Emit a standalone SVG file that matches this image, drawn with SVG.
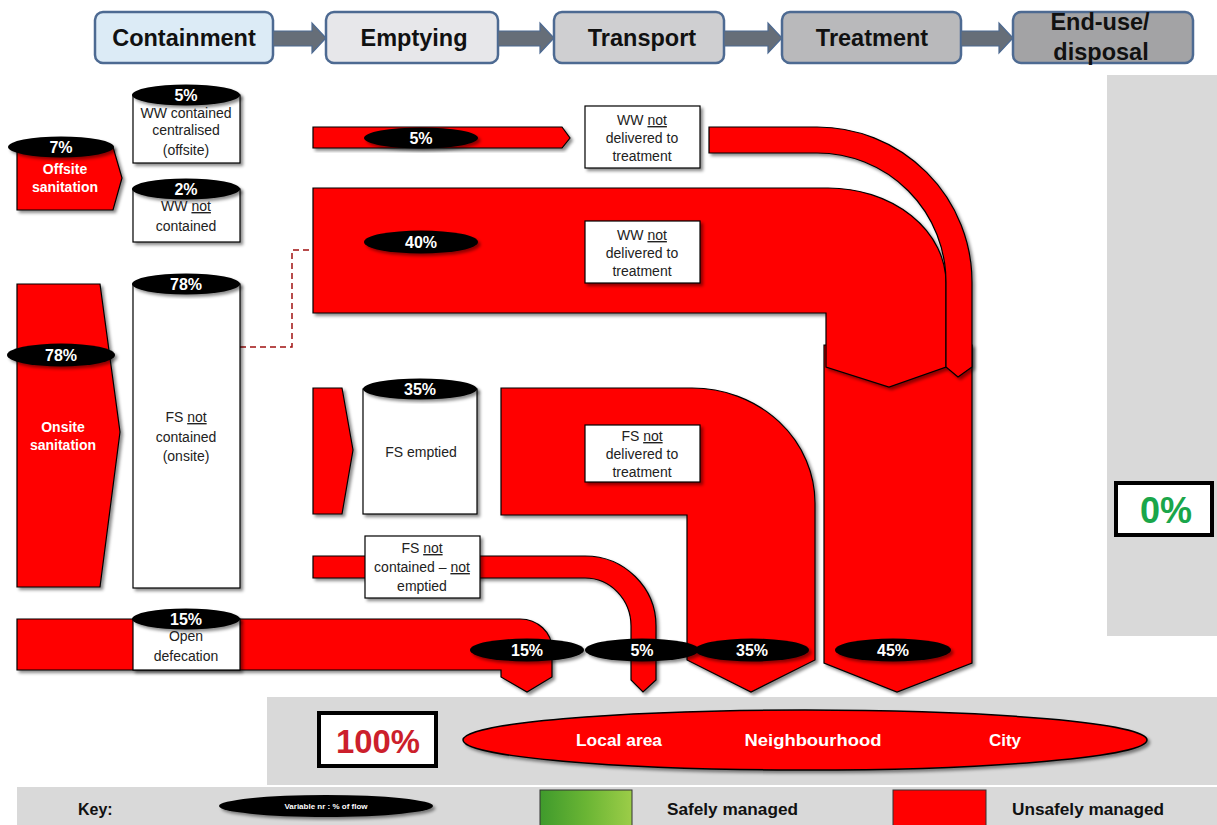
<svg xmlns="http://www.w3.org/2000/svg" width="1217" height="825" viewBox="0 0 1217 825">
<defs>
<filter id="sh" x="-10%" y="-10%" width="130%" height="130%"><feDropShadow dx="2.5" dy="2.5" stdDeviation="1.8" flood-color="#000" flood-opacity="0.45"/></filter>
<linearGradient id="grn" x1="0" y1="0" x2="1" y2="0"><stop offset="0" stop-color="#3f9a2c"/><stop offset="0.5" stop-color="#6ab534"/><stop offset="1" stop-color="#9ccd48"/></linearGradient>
<style>
.hdr{stroke:#4d6a92;stroke-width:2.5}
.ht{font-family:"Liberation Sans",Arial,sans-serif;font-weight:bold;font-size:23.5px;fill:#111;text-anchor:middle}
.harr{fill:#666e78;stroke:#4d6a92;stroke-width:1.2}
.red{fill:#ff0000;stroke:#000;stroke-width:1.2;filter:url(#sh)}
.box{fill:#fff;stroke:#000;stroke-width:1.2;filter:url(#sh)}
.cap{fill:#000;filter:url(#sh)}
.pt{font-family:"Liberation Sans",Arial,sans-serif;font-weight:bold;font-size:16px;fill:#fff;text-anchor:middle}
.lt{font-family:"Liberation Sans",Arial,sans-serif;font-size:14px;fill:#222;text-anchor:middle}
.wt{font-family:"Liberation Sans",Arial,sans-serif;font-weight:bold;font-size:14px;fill:#fff;text-anchor:middle}
.panel{fill:#d9d9d9}
.kt{font-family:"Liberation Sans",Arial,sans-serif;font-weight:bold;font-size:16px;fill:#111}
.ct{font-family:"Liberation Sans",Arial,sans-serif;font-weight:bold;font-size:17px;fill:#fff;text-anchor:middle}
</style>
</defs>
<rect width="1217" height="825" fill="#fff"/>

<g id="header">
<rect class="hdr" x="95" y="12" width="178" height="51" rx="8" fill="#dcebf6"/>
<text class="ht" x="184" y="46">Containment</text>
<rect class="hdr" x="326" y="12" width="172" height="51" rx="8" fill="#e7e7ea"/>
<text class="ht" x="414" y="46">Emptying</text>
<rect class="hdr" x="554" y="12" width="170" height="51" rx="8" fill="#cfcfd1"/>
<text class="ht" x="642" y="46">Transport</text>
<rect class="hdr" x="782" y="12" width="179" height="51" rx="8" fill="#b9b9bb"/>
<text class="ht" x="872" y="46">Treatment</text>
<rect class="hdr" x="1013" y="12" width="180" height="51" rx="8" fill="#a3a3a5"/>
<text class="ht" x="1100" y="30">End-use/</text>
<text class="ht" x="1101" y="60">disposal</text>
</g>
<g id="header-arrows">
<polygon class="harr" points="273,31 312,31 312,23 326,38 312,53 312,46 273,46"/>
<polygon class="harr" points="498,31 540,31 540,23 554,38 540,53 540,46 498,46"/>
<polygon class="harr" points="724,31 768,31 768,23 782,38 768,53 768,46 724,46"/>
<polygon class="harr" points="961,31 999,31 999,23 1013,38 999,53 999,46 961,46"/>
</g>

<g id="panels">
<rect class="panel" x="1107" y="75" width="110" height="561"/>
<rect class="panel" x="267" y="697" width="950" height="88"/>
<rect class="panel" x="17" y="787" width="1200" height="38"/>
</g>

<g id="connectors">
<polyline points="240,347 292,347 292,250 313,250" fill="none" stroke="#a01010" stroke-width="1.5" stroke-dasharray="6,4"/>
<path id="flow45" class="red" d="M824,345 H972 V663 L897,692 L824,663 Z"/>
<path id="flow40" class="red" d="M313,188 H828 A118,95 0 0 1 946,283 V367 L889,387 L826,367 V313 H313 Z"/>
<path id="flow5top" class="red" d="M709,127 H817 A155,155 0 0 1 972,282 V367 L958,377 L946,367 V282 A129,129 0 0 0 817,153 H709 Z"/>
<path id="flow5a" class="red" d="M313,127 H562 L570,138 L562,148 H313 Z"/>
<path id="flow35in" class="red" d="M313,388 H342 L353,450 L342,514 H313 Z"/>
<path id="flow35" class="red" d="M501,388 H692 A123,115 0 0 1 815,503 V660 L751,692 L687,660 V515 H501 Z"/>
<path id="flow5b" class="red" d="M313,556 H585 A71,70 0 0 1 656,626 V680 L643,692 L631,680 V626 A46,48 0 0 0 585,578 H313 Z"/>
<path id="flow15" class="red" d="M17,619 H520 A32,30 0 0 1 552,649 V677 L527,692 L501,677 V670 H17 Z"/>
</g>

<g id="offsite">
<path class="red" d="M17,147 H113 L122,178 L113,210 H17 Z"/>
<ellipse class="cap" cx="61" cy="147" rx="53" ry="10.5"/>
<text class="pt" x="61" y="153">7%</text>
<text class="wt" x="65" y="174">Offsite</text>
<text class="wt" x="65" y="192">sanitation</text>
</g>

<g id="onsite">
<path class="red" d="M17,284 H100 L120,432 L100,587 H17 Z"/>
<ellipse class="cap" cx="61" cy="355" rx="54" ry="11.5"/>
<text class="pt" x="61" y="361">78%</text>
<text class="wt" x="63" y="432">Onsite</text>
<text class="wt" x="63" y="450">sanitation</text>
</g>

<g id="ww-contained">
<rect class="box" x="133" y="95" width="107" height="68"/>
<ellipse class="cap" cx="186" cy="95" rx="54" ry="10.5"/>
<text class="pt" x="186" y="101">5%</text>
<text class="lt" x="186" y="118">WW contained</text>
<text class="lt" x="186" y="135">centralised</text>
<text class="lt" x="186" y="155">(offsite)</text>
</g>

<g id="ww-not-contained">
<rect class="box" x="133" y="189" width="107" height="53"/>
<ellipse class="cap" cx="186" cy="189" rx="54" ry="10.5"/>
<text class="pt" x="186" y="195">2%</text>
<text class="lt" x="186" y="211">WW <tspan text-decoration="underline">not</tspan></text>
<text class="lt" x="186" y="231">contained</text>
</g>

<g id="fs-not-contained">
<rect class="box" x="133" y="284" width="107" height="304"/>
<ellipse class="cap" cx="186" cy="284" rx="54" ry="10.5"/>
<text class="pt" x="186" y="290">78%</text>
<text class="lt" x="186" y="422">FS <tspan text-decoration="underline">not</tspan></text>
<text class="lt" x="186" y="442">contained</text>
<text class="lt" x="186" y="461">(onsite)</text>
</g>

<g id="open-defecation">
<rect class="box" x="133" y="619" width="107" height="51"/>
<ellipse class="cap" cx="186" cy="619" rx="54" ry="10.5"/>
<text class="pt" x="186" y="625">15%</text>
<text class="lt" x="186" y="641">Open</text>
<text class="lt" x="186" y="661">defecation</text>
</g>

<g id="fs-emptied">
<rect class="box" x="363" y="389" width="114" height="125"/>
<ellipse class="cap" cx="420" cy="389" rx="57" ry="10.5"/>
<text class="pt" x="420" y="395">35%</text>
<text class="lt" x="421" y="457">FS emptied</text>
</g>

<g id="fs-not-emptied">
<rect class="box" x="365" y="536" width="115" height="62"/>
<text class="lt" x="422" y="553">FS <tspan text-decoration="underline">not</tspan></text>
<text class="lt" x="422" y="572">contained – <tspan text-decoration="underline">not</tspan></text>
<text class="lt" x="422" y="591">emptied</text>
</g>

<g id="ww-not-delivered-1">
<rect class="box" x="585" y="106" width="115" height="62"/>
<text class="lt" x="642" y="125">WW <tspan text-decoration="underline">not</tspan></text>
<text class="lt" x="642" y="143">delivered to</text>
<text class="lt" x="642" y="161">treatment</text>
</g>

<g id="ww-not-delivered-2">
<rect class="box" x="585" y="221" width="115" height="62"/>
<text class="lt" x="642" y="240">WW <tspan text-decoration="underline">not</tspan></text>
<text class="lt" x="642" y="258">delivered to</text>
<text class="lt" x="642" y="276">treatment</text>
</g>

<g id="fs-not-delivered">
<rect class="box" x="585" y="425" width="115" height="57"/>
<text class="lt" x="642" y="441">FS <tspan text-decoration="underline">not</tspan></text>
<text class="lt" x="642" y="459">delivered to</text>
<text class="lt" x="642" y="477">treatment</text>
</g>

<g id="flow-labels">
<ellipse class="cap" cx="421" cy="138" rx="57" ry="10.5"/>
<text class="pt" x="421" y="144">5%</text>
<ellipse class="cap" cx="421" cy="242" rx="57" ry="11.5"/>
<text class="pt" x="421" y="248">40%</text>
<ellipse class="cap" cx="527" cy="650" rx="57" ry="11.5"/>
<text class="pt" x="527" y="656">15%</text>
<ellipse class="cap" cx="642" cy="650" rx="57" ry="11.5"/>
<text class="pt" x="642" y="656">5%</text>
<ellipse class="cap" cx="752" cy="650" rx="57" ry="11.5"/>
<text class="pt" x="752" y="656">35%</text>
<ellipse class="cap" cx="893" cy="650" rx="58" ry="11.5"/>
<text class="pt" x="893" y="656">45%</text>
</g>

<g id="safe-total">
<rect x="1116" y="483" width="96" height="52" fill="#fff" stroke="#000" stroke-width="4"/>
<text x="1166" y="523" font-family="'Liberation Sans',Arial,sans-serif" font-size="36" font-weight="bold" fill="#1aa64a" text-anchor="middle">0%</text>
</g>

<g id="unsafe-total">
<rect x="319" y="713" width="117" height="53" fill="#fff" stroke="#000" stroke-width="4"/>
<text x="378" y="753" font-family="'Liberation Sans',Arial,sans-serif" font-size="34" font-weight="bold" fill="#cc1f2c" text-anchor="middle" textLength="84" lengthAdjust="spacingAndGlyphs">100%</text>
</g>

<g id="areas">
<ellipse cx="805" cy="740" rx="342" ry="30" fill="#ff0000" stroke="#000" stroke-width="1.5" filter="url(#sh)"/>
<text class="ct" x="619" y="746" textLength="86" lengthAdjust="spacingAndGlyphs">Local area</text>
<text class="ct" x="813" y="746" textLength="137" lengthAdjust="spacingAndGlyphs">Neighbourhood</text>
<text class="ct" x="1005" y="746">City</text>
</g>

<g id="key">
<text class="kt" x="78" y="815">Key:</text>
<ellipse cx="326" cy="806" rx="107" ry="11" fill="#000" filter="url(#sh)"/>
<text x="326" y="809" font-family="'Liberation Sans',Arial,sans-serif" font-size="8" font-weight="bold" fill="#fff" text-anchor="middle">Variable nr  :  % of flow</text>
<rect x="540" y="790" width="92" height="40" fill="url(#grn)" stroke="#333" stroke-width="1"/>
<text class="kt" x="667" y="815" textLength="131" lengthAdjust="spacingAndGlyphs">Safely managed</text>
<rect x="893" y="790" width="93" height="40" fill="#ff0000" stroke="#333" stroke-width="1"/>
<text class="kt" x="1012" y="815" textLength="152" lengthAdjust="spacingAndGlyphs">Unsafely managed</text>
</g>
</svg>
